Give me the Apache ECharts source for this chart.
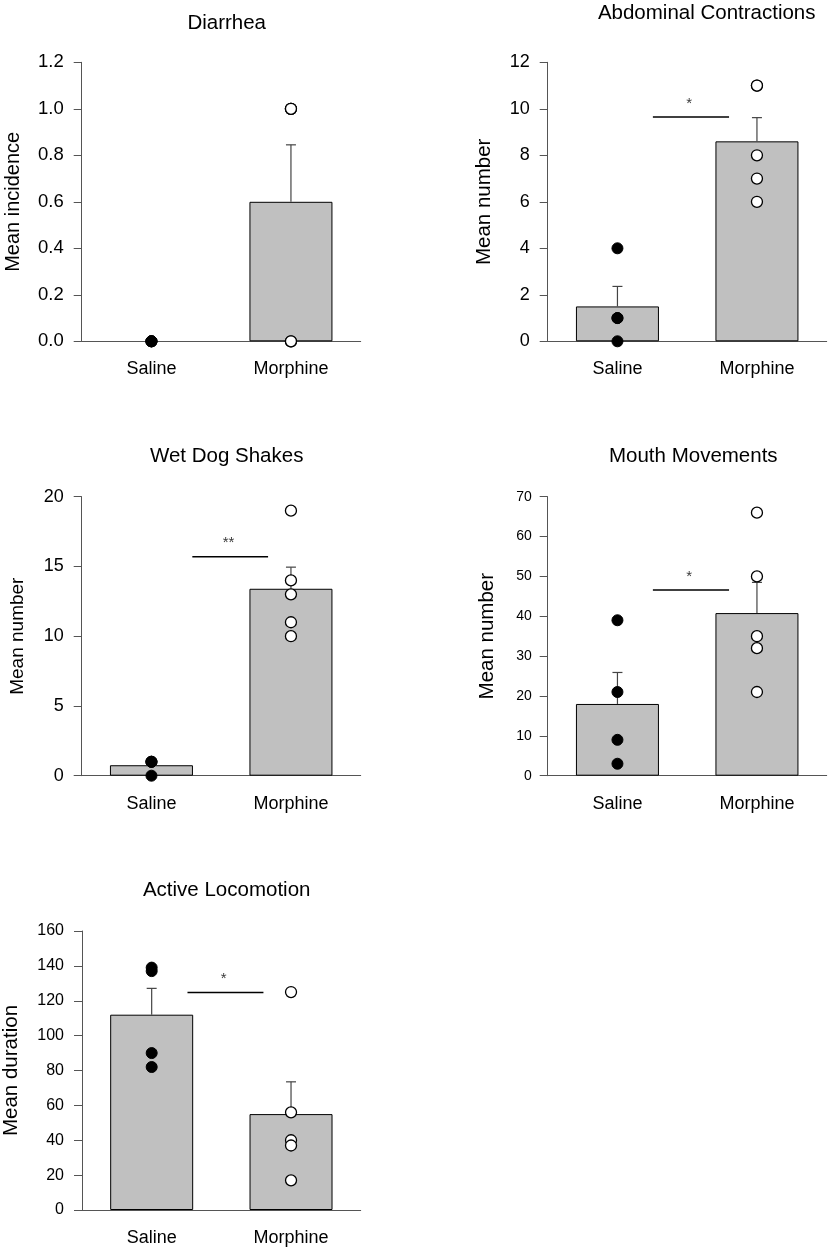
<!DOCTYPE html>
<html>
<head>
<meta charset="utf-8">
<title>Withdrawal signs</title>
<script src="https://cdn.jsdelivr.net/npm/echarts@6/dist/echarts.min.js"></script>
<style>
	html, body { margin: 0; padding: 0; background: #fff; }
	#chart { width: 830px; height: 1248px; }
</style>
</head>
<body>
<div id="chart"></div>
<script>
/* ---------------------------------------------
     Data
--------------------------------------------- */
const groups = ['Saline', 'Morphine'];

const titles = ['Diarrhea', 'Abdominal Contractions', 'Wet Dog Shakes', 'Mouth Movements', 'Active Locomotion'];
const yNames = ['Mean incidence', 'Mean number', 'Mean number', 'Mean number', 'Mean duration'];
const yMax = [1.2, 12, 20, 70, 160];
const yStep = [0.2, 2, 5, 10, 20];
const yDecimals = [1, 0, 0, 0, 0];

// Diarrhea
const diarrheaMean = [0, 0.6];
const diarrheaSem = [0, 0.245];
const diarrheaSaline = [0, 0, 0, 0];
const diarrheaMorphine = [1, 1, 1, 0, 0];

// Abdominal contractions
const abdominalMean = [1.5, 8.6];
const abdominalSem = [0.86, 1.02];
const abdominalSaline = [4, 1, 1, 0];
const abdominalMorphine = [11, 11, 8, 7, 6];
const abdominalSig = [0.254, 0.8, 9.65];

// Wet dog shakes
const wetDogMean = [0.75, 13.4];
const wetDogSem = [0.25, 1.55];
const wetDogSaline = [1, 1, 1, 0];
const wetDogMorphine = [19, 14, 13, 11, 10];
const wetDogSig = [0.293, 0.836, 15.7];

// Mouth movements
const mouthMean = [18, 40.8];
const mouthSem = [7.9, 7.7];
const mouthSaline = [39, 21, 9, 3];
const mouthMorphine = [66, 50, 35, 32, 21];
const mouthSig = [0.254, 0.8, 46.6];

// Active locomotion
const locoMean = [112, 55];
const locoSem = [15.1, 18.5];
const locoSaline = [139, 137, 90, 82];
const locoMorphine = [125, 56, 40, 37, 17];
const locoSig = [0.257, 0.802, 124.8];

const sigMarks = ['', '*', '**', '*', '*'];

/* ---------------------------------------------
     Layout helpers
--------------------------------------------- */
const FONT = '"Liberation Sans", Arial, Helvetica, sans-serif';
const AXIS = '#555';

// panel boxes: left, top (+ title anchor, name gap, font sizes)
const panels = [
	{ left: 81.7, top: 62.3, titleX: 221.7, titleY: 7.5, nameGap: 58, nameSize: 20, tickSize: 18.5 },
	{ left: 547.7, top: 62.3, titleX: 701.7, titleY: -2.5, nameGap: 53, nameSize: 20.5, tickSize: 18 },
	{ left: 81.7, top: 496.7, titleX: 221.7, titleY: 440.5, nameGap: 54, nameSize: 19, tickSize: 18 },
	{ left: 547.7, top: 496.7, titleX: 688.3, titleY: 440.5, nameGap: 50, nameSize: 20.5, tickSize: 14 },
	{ left: 81.7, top: 931, titleX: 221.7, titleY: 874.5, nameGap: 60, nameSize: 20.5, tickSize: 16 },
];

const panelData = [
	[diarrheaMean, diarrheaSem, diarrheaSaline, diarrheaMorphine, null],
	[abdominalMean, abdominalSem, abdominalSaline, abdominalMorphine, abdominalSig],
	[wetDogMean, wetDogSem, wetDogSaline, wetDogMorphine, wetDogSig],
	[mouthMean, mouthSem, mouthSaline, mouthMorphine, mouthSig],
	[locoMean, locoSem, locoSaline, locoMorphine, locoSig],
];

function errorBarItem(params, api) {
	const x = api.value(0);
	const mean = api.value(1);
	const top = api.value(2);
	if (!(top > mean)) {
		return null;
	}
	const p0 = api.coord([x, mean]);
	const p1 = api.coord([x, top]);
	const style = { stroke: '#444', lineWidth: 1.2 };
	return {
		type: 'group',
		children: [
			{ type: 'line', shape: { x1: p0[0], y1: p0[1], x2: p1[0], y2: p1[1] }, style },
			{ type: 'line', shape: { x1: p1[0] - 5, y1: p1[1], x2: p1[0] + 5, y2: p1[1] }, style },
		],
	};
}

const grid = [];
const xAxis = [];
const yAxis = [];
const title = [];
const series = [];

panels.forEach((p, i) => {
	const [mean, sem, saline, morphine, sig] = panelData[i];

	grid.push({ left: p.left, top: p.top, width: 279, height: 279 });

	title.push({
		text: titles[i],
		left: p.titleX,
		top: p.titleY,
		textAlign: 'center',
		textStyle: { fontFamily: FONT, fontSize: 20.5, fontWeight: 'normal', color: '#000' },
	});

	// visible category axis
	xAxis.push({
		type: 'category',
		gridIndex: i,
		data: groups,
		axisLine: { lineStyle: { color: AXIS, width: 1 } },
		axisTick: { alignWithLabel: true, length: 7, lineStyle: { color: AXIS } },
		axisLabel: { fontFamily: FONT, fontSize: 18, color: '#000', margin: 19 },
	});
	// hidden value axis for the significance bars (0 = Saline, 1 = Morphine)
	xAxis.push({ type: 'value', gridIndex: i, min: -0.5, max: 1.5, show: false });

	yAxis.push({
		type: 'value',
		gridIndex: i,
		min: 0,
		max: yMax[i],
		interval: yStep[i],
		name: yNames[i],
		nameLocation: 'middle',
		nameGap: p.nameGap,
		nameTextStyle: { fontFamily: FONT, fontSize: p.nameSize, color: '#000' },
		axisLine: { show: true, onZero: false, lineStyle: { color: AXIS, width: 1 } },
		axisTick: { show: true, length: 8, lineStyle: { color: AXIS } },
		splitLine: { show: false },
		axisLabel: {
			fontFamily: FONT,
			fontSize: p.tickSize,
			color: '#000',
			margin: p.tickSize < 15 ? 16 : 18,
			formatter: (v) => v.toFixed(yDecimals[i]),
		},
	});

	series.push({
		type: 'bar',
		xAxisIndex: 2 * i,
		yAxisIndex: i,
		data: mean.map((m) => (m > 0 ? m : { value: m, itemStyle: { borderWidth: 0 } })),
		barWidth: 83,
		itemStyle: { color: '#c0c0c0', borderColor: '#000', borderWidth: 1 },
		silent: true,
		z: 2,
	});

	series.push({
		type: 'custom',
		xAxisIndex: 2 * i,
		yAxisIndex: i,
		renderItem: errorBarItem,
		data: mean.map((m, k) => [k, m, m + sem[k]]),
		silent: true,
		z: 3,
	});

	if (sig) {
		series.push({
			type: 'line',
			xAxisIndex: 2 * i + 1,
			yAxisIndex: i,
			data: [[sig[0], sig[2]], [sig[1], sig[2]]],
			symbol: 'none',
			lineStyle: { color: '#000', width: 1.5 },
			silent: true,
			z: 3,
		});
		series.push({
			type: 'scatter',
			xAxisIndex: 2 * i + 1,
			yAxisIndex: i,
			data: [[(sig[0] + sig[1]) / 2 - 0.012, sig[2]]],
			symbolSize: 0,
			label: {
				show: true,
				position: 'top',
				distance: 6,
				formatter: sigMarks[i],
				fontFamily: FONT,
				fontSize: 15,
				color: '#000',
			},
			silent: true,
			z: 3,
		});
	}

	series.push({
		type: 'scatter',
		xAxisIndex: 2 * i,
		yAxisIndex: i,
		data: saline.map((v) => [0, v]),
		symbolSize: 11,
		itemStyle: { color: '#000', borderColor: '#000', borderWidth: 1, opacity: 1 },
		silent: true,
		z: 5,
	});
	series.push({
		type: 'scatter',
		xAxisIndex: 2 * i,
		yAxisIndex: i,
		data: morphine.map((v) => [1, v]),
		symbolSize: 11,
		itemStyle: { color: '#fff', borderColor: '#000', borderWidth: 1.3, opacity: 1 },
		silent: true,
		z: 5,
	});
});

const chart = echarts.init(document.getElementById('chart'), null, { renderer: 'canvas' });
chart.setOption({
	backgroundColor: '#fff',
	animation: false,
	title,
	grid,
	xAxis,
	yAxis,
	series,
});
</script>
</body>
</html>
